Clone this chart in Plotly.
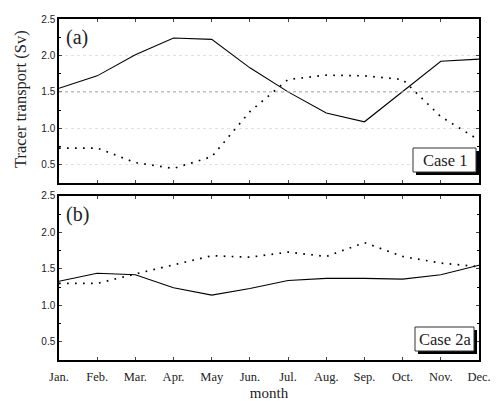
import plotly.graph_objects as go
from plotly.subplots import make_subplots

months = ["Jan.", "Feb.", "Mar.", "Apr.", "May", "Jun.", "Jul.", "Aug.", "Sep.", "Oct.", "Nov.", "Dec."]
a_solid = [1.55, 1.72, 2.01, 2.24, 2.22, 1.83, 1.50, 1.21, 1.09, 1.50, 1.92, 1.95]
a_dotted = [0.73, 0.73, 0.53, 0.45, 0.61, 1.23, 1.67, 1.73, 1.72, 1.67, 1.16, 0.84]
b_solid = [1.33, 1.44, 1.42, 1.24, 1.14, 1.23, 1.34, 1.37, 1.37, 1.36, 1.42, 1.55]
b_dotted = [1.30, 1.30, 1.43, 1.56, 1.68, 1.66, 1.73, 1.67, 1.86, 1.67, 1.58, 1.53]
y_ticks = [0.5, 1.0, 1.5, 2.0, 2.5]
y_ticktext = ["0.5", "1.0", "1.5", "2.0", "2.5"]

x = list(range(len(months)))
serif = "Liberation Serif"
sans = "Liberation Sans"

fig = make_subplots(rows=2, cols=1, shared_xaxes=False, vertical_spacing=0.038)

line_solid = dict(color="black", width=1.1)
line_dot = dict(color="black", width=1.7, dash="1.7px,6.3px")

fig.add_trace(go.Scatter(x=x, y=a_solid, mode="lines", line=line_solid, showlegend=False), row=1, col=1)
fig.add_trace(go.Scatter(x=x, y=a_dotted, mode="lines", line=line_dot, showlegend=False), row=1, col=1)
fig.add_trace(go.Scatter(x=x, y=b_solid, mode="lines", line=line_solid, showlegend=False), row=2, col=1)
fig.add_trace(go.Scatter(x=x, y=b_dotted, mode="lines", line=line_dot, showlegend=False), row=2, col=1)

xcommon = dict(range=[0, 11], tickvals=x, ticks="inside", ticklen=3, tickwidth=1,
               showline=True, linecolor="black", linewidth=1.5, mirror="ticks",
               zeroline=False, showgrid=False, automargin=False)
ycommon = dict(range=[0.25, 2.5], tickvals=y_ticks, ticktext=y_ticktext, ticks="inside", ticklen=3,
               showline=True, linecolor="black", linewidth=1.5, mirror="ticks",
               zeroline=False, automargin=False, tickfont=dict(family=sans, size=10, color="#222"),
               minor=dict(ticks="inside", ticklen=2, dtick=0.25, tickcolor="black"))

fig.update_xaxes(**xcommon, showticklabels=False, row=1, col=1)
fig.update_xaxes(**xcommon, ticktext=months, tickfont=dict(family=serif, size=12.5, color="#222"),
                 ticklabelstandoff=4,
                 title=dict(text="month", font=dict(family=serif, size=15, color="#222"), standoff=9),
                 row=2, col=1)
fig.update_yaxes(**ycommon, showgrid=True, gridcolor="#e2e2e2", griddash="dot", gridwidth=1, row=1, col=1)
fig.update_yaxes(**ycommon, showgrid=False, row=2, col=1)

# the 1.5 reference line in panel (a)
fig.add_hline(y=1.5, line=dict(color="#aaa", width=1, dash="dot"), row=1, col=1)

fig.update_layout(
    width=497, height=401,
    margin=dict(l=59, r=18, t=19, b=41),
    paper_bgcolor="white", plot_bgcolor="white",
    font=dict(family=serif, color="#222"),
    annotations=[
        dict(text="(a)", x=0.012, y=0.985, xref="paper", yref="paper", xanchor="left", yanchor="top",
             showarrow=False, font=dict(family=serif, size=20, color="#222")),
        dict(text="(b)", x=0.012, y=0.466, xref="paper", yref="paper", xanchor="left", yanchor="top",
             showarrow=False, font=dict(family=serif, size=20, color="#222")),
        dict(text="Tracer transport (Sv)", x=-0.093, y=0.765, xref="paper", yref="paper",
             textangle=-90, showarrow=False, xanchor="center", yanchor="middle",
             font=dict(family=serif, size=16.5, color="#222")),
    ],
)

# Case boxes (paper coordinates via pixel conversion)
W, H = 497 - 59 - 18, 401 - 19 - 41
def px(xp):
    return (xp - 59) / W
def py(yp):
    return (360 - yp) / H

for (x0, y0, x1, y1, label) in [(413, 148, 476, 172, "Case 1"), (415, 327, 474, 351, "Case 2a")]:
    fig.add_shape(type="rect", xref="paper", yref="paper", x0=px(x0 + 3), x1=px(x1 + 3),
                  y0=py(y1 + 3), y1=py(y0 + 3), fillcolor="black", line=dict(width=0))
    fig.add_shape(type="rect", xref="paper", yref="paper", x0=px(x0), x1=px(x1),
                  y0=py(y1), y1=py(y0), fillcolor="white", line=dict(color="#333", width=1))
    fig.add_annotation(text=label, x=px((x0 + x1) / 2), y=py((y0 + y1) / 2), xref="paper", yref="paper",
                       showarrow=False, xanchor="center", yanchor="middle",
                       font=dict(family=serif, size=16.5, color="#222"))

fig.write_html("out.html")
